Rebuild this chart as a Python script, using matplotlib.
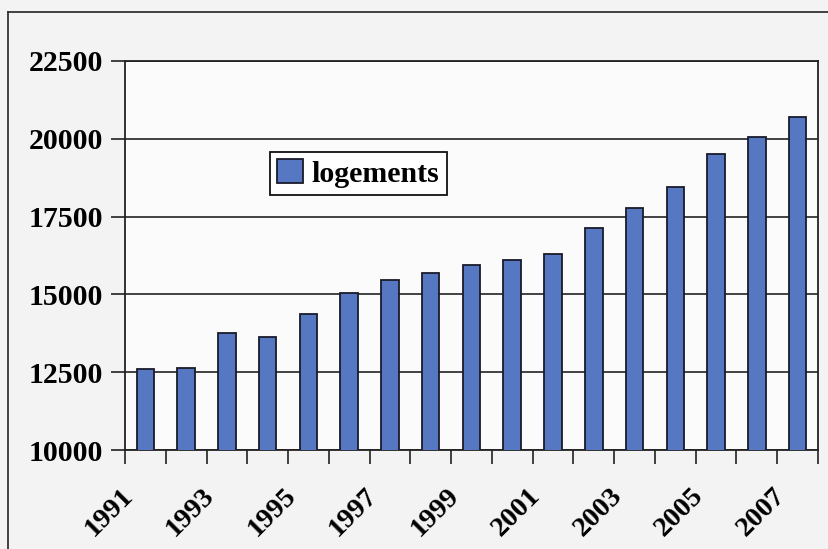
import matplotlib.pyplot as plt
import numpy as np
from matplotlib.lines import Line2D
from matplotlib.transforms import ScaledTranslation

years = list(range(1991, 2008))
logements = [12600, 12650, 13760, 13640, 14360, 15050, 15460, 15680, 15960,
             16100, 16310, 17120, 17770, 18460, 19500, 20060, 20700]
y_ticks = [10000, 12500, 15000, 17500, 20000, 22500]

plt.rcParams["font.family"] = ["Liberation Serif", "DejaVu Serif"]
plt.rcParams["font.weight"] = "bold"

fig = plt.figure(figsize=(8.29, 5.49), dpi=100, facecolor="#f3f3f3")
ax = fig.add_axes([0.1508, 0.1803, 0.8359, 0.7086], facecolor="#fbfbfb")

x = np.arange(len(years))
ax.bar(x, logements, width=0.43, color="#5677c2", edgecolor="#1a1a2a",
       linewidth=1.3, label="logements", zorder=3)

ax.set_xlim(-0.5, len(years) - 0.5)
ax.set_ylim(y_ticks[0], y_ticks[-1])
ax.set_yticks(y_ticks)
ax.set_yticklabels([str(v) for v in y_ticks], fontsize=21.5, fontweight="bold")
ax.yaxis.grid(True, color="#222222", linewidth=1.2, zorder=1)
ax.tick_params(axis="y", length=10, width=1.2, pad=6, color="#222222")

ax.set_xticks(x[::2])
ax.set_xticklabels([str(y) for y in years[::2]], rotation=45, ha="right",
                   rotation_mode="anchor", fontsize=20.5, fontweight="bold")
ax.set_xticks(np.arange(-0.5, len(years)), minor=True)
ax.tick_params(axis="x", which="major", length=0, pad=24)
ax.tick_params(axis="x", which="minor", length=10, width=1.2, color="#222222")
shift = ScaledTranslation(-0.25, 0, fig.dpi_scale_trans)
for lbl in ax.get_xticklabels():
    lbl.set_transform(lbl.get_transform() + shift)

for side in ["left", "right", "top", "bottom"]:
    ax.spines[side].set_color("#222222")
    ax.spines[side].set_linewidth(1.3)

leg = ax.legend(loc="upper left", bbox_to_anchor=(0.209, 0.766),
                borderaxespad=0, fancybox=False, framealpha=1,
                edgecolor="#111111", prop={"size": 21.5, "weight": "bold"},
                handlelength=0.85, handleheight=0.85, handletextpad=0.3,
                borderpad=0.25)
leg.get_frame().set_linewidth(1.3)

# outer frame of the scanned chart
fig.add_artist(Line2D([0.0097, 0.0097], [0.0, 0.978], color="#333333", lw=1.3))
fig.add_artist(Line2D([0.0097, 1.0], [0.978, 0.978], color="#333333", lw=1.3))

fig.savefig("out.png", dpi=100, facecolor=fig.get_facecolor())
